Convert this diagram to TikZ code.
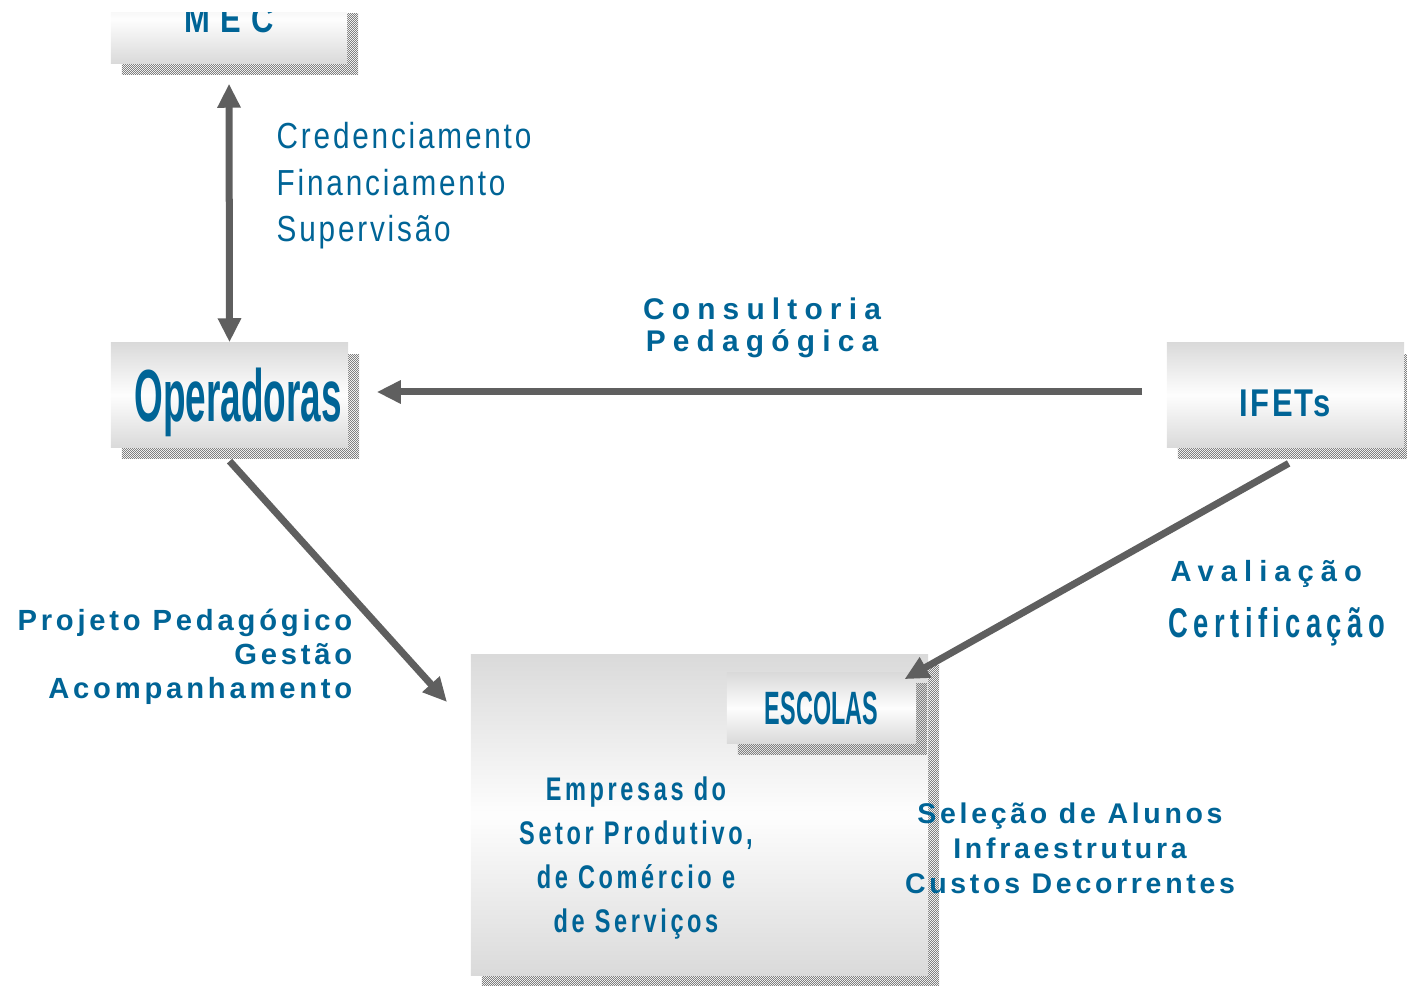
\documentclass[tikz,border=0pt]{standalone}
\usepackage{fontspec}
\setmainfont{Liberation Sans}
\usetikzlibrary{arrows.meta,patterns,shadows}

\definecolor{txtblue}{RGB}{0,100,150}
\definecolor{arrgray}{RGB}{95,95,95}
\definecolor{boxgray}{RGB}{218,218,218}

\newfontfamily\narrowsans[FakeStretch=0.5]{Liberation Sans}
\newfontfamily\condsans[FakeStretch=0.72,LetterSpace=11]{Liberation Sans}
\newfontfamily\certsans[FakeStretch=0.66,LetterSpace=13]{Liberation Sans}
\newfontfamily\capsans[FakeStretch=0.8,LetterSpace=6]{Liberation Sans}
\newfontfamily\widesans[LetterSpace=24]{Liberation Sans}
\newfontfamily\tracksans[LetterSpace=13]{Liberation Sans}
\newfontfamily\thinsans[FakeStretch=0.82,LetterSpace=7.8]{Liberation Sans}

\pgfdeclarepatternformonly{finechecker}{\pgfpointorigin}{\pgfpoint{0.567pt}{0.567pt}}{\pgfpoint{0.567pt}{0.567pt}}{%
  \pgfpathrectangle{\pgfpointorigin}{\pgfpoint{0.2835pt}{0.2835pt}}%
  \pgfpathrectangle{\pgfpoint{0.2835pt}{0.2835pt}}{\pgfpoint{0.2835pt}{0.2835pt}}%
  \pgfusepath{fill}}

\begin{document}
\begin{tikzpicture}[x=0.01cm, y=-0.01cm,
  box/.style={rectangle, inner sep=0pt, text=txtblue, text depth=0pt,
    top color=boxgray, bottom color=boxgray, middle color=white!96!boxgray,
    general shadow={shadow xshift=0.11cm, shadow yshift=-0.11cm,
      pattern=finechecker, pattern color=gray}},
  lbl/.style={text=txtblue, inner sep=0pt},
  arr/.style={draw=arrgray, line width=0.07cm, -{Triangle[length=0.24cm,width=0.22cm]}}]
\useasboundingbox (0,0) rectangle (1407,986);

% boxes
\begin{scope}
\clip (0,13) rectangle (1407,986);
\node[box, minimum width=2.36cm, minimum height=0.88cm, font=\capsans\bfseries\fontsize{11}{13}\selectfont] (mec) at (229,19) {\addfontfeatures{LetterSpace=27}MEC};
\end{scope}
\node[box, minimum width=2.37cm, minimum height=1.04cm, font=\narrowsans\bfseries\fontsize{21}{24}\selectfont] (operadoras) at (229.5,395) {\hspace{0.17cm}Operadoras};
\node[box, minimum width=2.37cm, minimum height=1.04cm, text height=12pt, font=\capsans\bfseries\fontsize{11}{13}\selectfont] (ifets) at (1285.5,395) {IFETs};
\node[box, minimum width=4.57cm, minimum height=3.20cm] (escbig) at (699.5,815) {};
\node[box, minimum width=1.89cm, minimum height=0.70cm, font=\narrowsans\bfseries\fontsize{13.3}{16}\selectfont] (escolas) at (821.5,708) {ESCOLAS};

% labels
\node[lbl, anchor=north west, align=left, font=\thinsans\fontsize{10.3}{13.1}\selectfont] (cred) at (276,122) {Credenciamento\\Financiamento\\Supervisão};
\node[lbl, anchor=north, align=center, font=\widesans\bfseries\fontsize{8.5}{9.2}\selectfont] (consult) at (762,297) {Consultoria\\Pedagógica};
\node[lbl, anchor=north east, align=right, font=\tracksans\bfseries\fontsize{8.3}{9.7}\selectfont] (projeto) at (353,608) {Projeto Pedagógico\\Gestão\\Acompanhamento};
\node[lbl, anchor=north west, font=\widesans\bfseries\fontsize{8.3}{9}\selectfont] (aval) at (1170,560) {Avaliação};
\node[lbl, anchor=north west, font=\certsans\bfseries\fontsize{11.8}{13}\selectfont] (cert) at (1168,607) {Certificação};
\node[lbl, anchor=north, align=center, font=\tracksans\bfseries\fontsize{8.1}{10}\selectfont] (selecao) at (1070,802) {Seleção de Alunos\\Infraestrutura\\Custos Decorrentes};
\node[lbl, anchor=north, align=center, font=\condsans\bfseries\fontsize{9.3}{12.5}\selectfont] (empresas) at (636,776) {Empresas do\\Setor Produtivo,\\de Comércio e\\de Serviços};

% connectors
\coordinate (opin) at (447,702);
\draw[arr, {Triangle[length=0.24cm,width=0.22cm]}-{Triangle[length=0.24cm,width=0.22cm]}, shorten <=0.2cm] (mec.south) -- (operadoras.north);
\draw[arr, shorten <=0.24cm, shorten >=0.28cm] ([yshift=0.03cm]ifets.west) -- ([yshift=0.03cm]operadoras.east);
\draw[arr, shorten <=0.18cm] ([xshift=-0.12cm]operadoras.south) -- (opin);
\draw[arr, shorten <=0.32cm, shorten >=-0.14cm] ([xshift=0.31cm]ifets.south) -- (escolas.north east);
\end{tikzpicture}
\end{document}
